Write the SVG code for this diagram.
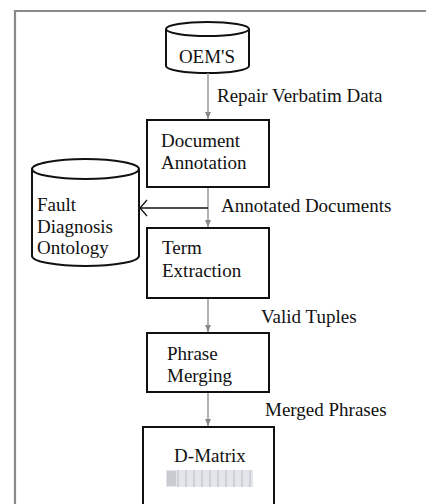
<svg xmlns="http://www.w3.org/2000/svg" width="426" height="504" viewBox="0 0 426 504">
<defs>
<style>
.frame{fill:none;stroke:#8a8a8a;stroke-width:2.2}
.box{fill:#fff;stroke:#111;stroke-width:2}
.cyl{fill:#fff;stroke:#111;stroke-width:2}
.t{font-family:'Liberation Serif','Tinos','Times New Roman','DejaVu Serif',serif;font-size:19px;fill:#111}
.flow{stroke:#999;stroke-width:1.5;fill:none}
.ah{fill:#888}
</style>
<marker id="arr" markerWidth="8" markerHeight="8" refX="7" refY="4" orient="auto" markerUnits="userSpaceOnUse">
<path d="M0,1 L7,4 L0,7 Z" class="ah"/>
</marker>
<marker id="open" markerWidth="12" markerHeight="20" refX="9" refY="10" orient="auto" markerUnits="userSpaceOnUse">
<path d="M2,2 L9,10 L2,18" fill="none" stroke="#111" stroke-width="1.3"/>
</marker>
</defs>
<rect x="0" y="0" width="426" height="504" fill="#fff"/>
<path class="frame" d="M15,505 V11 H428"/>

<g id="oems">
<path class="cyl" d="M166,29 V66 A41.5,7 0 0 0 249,66 V29"/>
<ellipse class="cyl" cx="207.5" cy="29" rx="41.5" ry="7"/>
<text class="t" font-family="Liberation Serif, serif" x="207" y="63" text-anchor="middle">OEM'S</text>
</g>

<g id="document-annotation">
<rect class="box" x="147" y="120" width="122" height="67"/>
<text class="t" x="161" y="147">Document</text>
<text class="t" x="161" y="169">Annotation</text>
</g>

<g id="fault-diagnosis-ontology">
<path class="cyl" d="M32,169 V256 A53.5,10 0 0 0 139,256 V169"/>
<ellipse class="cyl" cx="85.5" cy="169" rx="53.5" ry="10"/>
<text class="t" x="37" y="211">Fault</text>
<text class="t" x="37" y="233">Diagnosis</text>
<text class="t" x="37" y="254">Ontology</text>
</g>

<g id="term-extraction">
<rect class="box" x="147" y="228" width="122" height="70"/>
<text class="t" x="162" y="254">Term</text>
<text class="t" x="162" y="277">Extraction</text>
</g>

<g id="phrase-merging">
<rect class="box" x="147" y="333" width="122" height="59"/>
<text class="t" x="167" y="360">Phrase</text>
<text class="t" x="167" y="382">Merging</text>
</g>

<g id="d-matrix">
<rect class="box" x="143" y="427" width="131" height="80"/>
<text class="t" x="210" y="462" text-anchor="middle">D-Matrix</text>
<rect x="166" y="470" width="87" height="17" fill="#e4e6ec"/>
<rect x="167" y="471" width="9" height="15" fill="#c9cbd0"/>
<g stroke="#b8bcc8" stroke-width="1">
<line x1="178" y1="470" x2="178" y2="487"/>
<line x1="186" y1="470" x2="186" y2="487"/>
<line x1="194" y1="470" x2="194" y2="487"/>
<line x1="202" y1="470" x2="202" y2="487"/>
<line x1="210" y1="470" x2="210" y2="487"/>
<line x1="218" y1="470" x2="218" y2="487"/>
<line x1="226" y1="470" x2="226" y2="487"/>
<line x1="234" y1="470" x2="234" y2="487"/>
<line x1="242" y1="470" x2="242" y2="487"/>
<line x1="250" y1="470" x2="250" y2="487"/>
</g>
</g>

<g id="connectors">
<line class="flow" x1="208" y1="73" x2="208" y2="119" marker-end="url(#arr)"/>
<line class="flow" x1="208" y1="188" x2="208" y2="227" marker-end="url(#arr)"/>
<line x1="208" y1="208" x2="140" y2="208" stroke="#111" stroke-width="1.4" marker-end="url(#open)"/>
<line class="flow" x1="208" y1="299" x2="208" y2="332" marker-end="url(#arr)"/>
<line class="flow" x1="208" y1="393" x2="208" y2="426" marker-end="url(#arr)"/>
<text class="t" x="217" y="102">Repair Verbatim Data</text>
<text class="t" x="221" y="212">Annotated Documents</text>
<text class="t" x="261" y="323">Valid Tuples</text>
<text class="t" x="265" y="416">Merged Phrases</text>
</g>
</svg>
